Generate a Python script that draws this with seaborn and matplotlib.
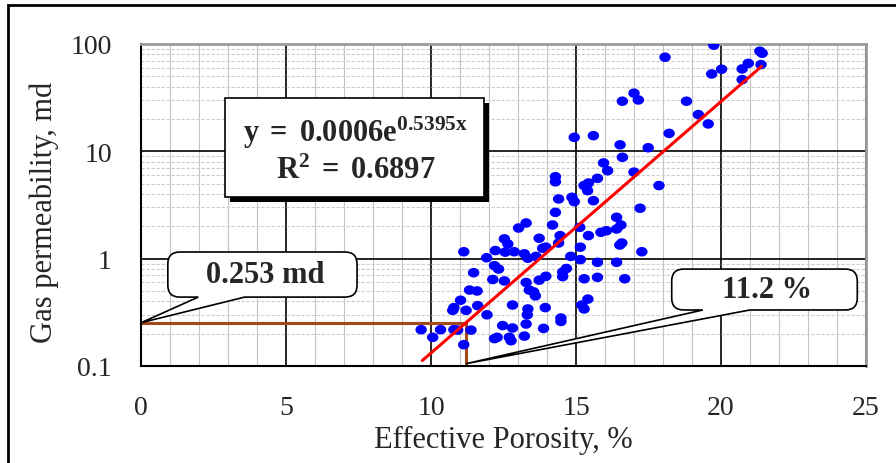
import numpy as np
import matplotlib
matplotlib.use("Agg")
import matplotlib.pyplot as plt
import seaborn as sns
from matplotlib.path import Path
from matplotlib.patches import PathPatch, Rectangle
from matplotlib.transforms import IdentityTransform
from matplotlib.ticker import MultipleLocator, LogLocator, FuncFormatter, NullFormatter

# core plug data
porosity = [
    9.66, 10.06, 10.33, 10.75, 10.79, 10.79, 10.92, 11.02, 11.13, 11.13,
    11.21, 11.33, 11.38, 11.47, 11.59, 11.61, 11.92, 11.93, 12.13, 12.19,
    12.19, 12.22, 12.28, 12.33, 12.47, 12.53, 12.53, 12.56, 12.65, 12.70,
    12.76, 12.81, 12.81, 12.87, 13.02, 13.22, 13.22, 13.28, 13.28, 13.28,
    13.32, 13.34, 13.34, 13.39, 13.54, 13.60, 13.62, 13.73, 13.73, 13.85,
    13.88, 13.94, 13.96, 13.96, 14.19, 14.29, 14.29, 14.29, 14.40, 14.40,
    14.45, 14.48, 14.48, 14.54, 14.54, 14.67, 14.82, 14.86, 14.94, 14.94,
    15.13, 15.15, 15.15, 15.20, 15.28, 15.28, 15.28, 15.40, 15.41, 15.43,
    15.43, 15.60, 15.60, 15.74, 15.74, 15.74, 15.86, 15.95, 16.05, 16.09,
    16.40, 16.40, 16.40, 16.51, 16.52, 16.55, 16.58, 16.60, 16.60, 16.68,
    17.00, 17.00, 17.15, 17.21, 17.27, 17.49, 17.86, 18.07, 18.21, 18.81,
    19.22, 19.56, 19.68, 19.75, 20.02, 20.73, 20.73, 20.94, 21.34, 21.38,
    21.42,
]
permeability = [
    0.218, 0.185, 0.218, 0.33, 0.35, 0.218, 0.216, 0.41, 1.16, 0.158,
    0.33, 0.51, 0.216, 0.74, 0.50, 0.365, 1.02, 0.30, 0.64, 0.86,
    0.18, 1.19, 0.185, 0.80, 0.238, 1.53, 0.62, 1.15, 1.37, 0.185,
    0.172, 0.37, 0.226, 1.16, 1.93, 1.11, 0.19, 2.15, 0.60, 0.246,
    0.30, 1.01, 0.34, 0.51, 0.49, 0.45, 1.05, 1.55, 0.63, 1.25,
    0.224, 0.35, 1.28, 0.685, 2.06, 5.8, 5.2, 2.7, 3.6, 1.40,
    1.64, 0.28, 0.26, 0.75, 0.68, 0.81, 1.05, 3.73, 13.5, 3.4,
    1.96, 1.28, 0.98, 0.37, 4.8, 0.65, 0.34, 4.3, 0.42, 5.07,
    1.64, 14.0, 3.47, 5.6, 0.925, 0.67, 1.76, 7.8, 1.82, 6.6,
    2.43, 1.89, 0.925, 1.34, 11.5, 2.06, 1.40, 29.3, 8.8, 0.65,
    34.8, 6.4, 30.1, 2.95, 1.16, 10.8, 4.8, 75.3, 14.7, 29.3,
    22.0, 18.0, 52.6, 97.5, 58.2, 58.6, 46.6, 66.0, 85.7, 64.3,
    82.0,
]

# exponential trend shown on the chart
fit_a = 0.0006
fit_b = 0.5395
fit_r2 = 0.6897
fit_range = [9.7, 21.4]

# cutoff read from the trend
cutoff_perm = 0.253
cutoff_poro = 11.2

sns.set_style("white")
plt.rcParams['font.family'] = ['Liberation Serif', 'DejaVu Serif']
plt.rcParams['mathtext.fontset'] = 'custom'
plt.rcParams['mathtext.rm'] = 'Liberation Serif'
plt.rcParams['mathtext.bf'] = 'Liberation Serif:bold'
plt.rcParams['mathtext.it'] = 'Liberation Serif:italic'

fig = plt.figure(figsize=(8.96, 4.64), dpi=100)
ax = fig.add_axes([141 / 896, 1 - 367 / 464, 725 / 896, 322 / 464])

# slightly wide ellipse marker like the excel one
t = np.linspace(0, 2 * np.pi, 41)
ellipse = Path(np.column_stack([1.2 * np.cos(t), np.sin(t)]), closed=True)

sns.scatterplot(x=porosity, y=permeability, ax=ax, marker=ellipse, s=68,
                color='#0000FF', edgecolor='none', linewidth=0, zorder=3)

x_fit = np.linspace(fit_range[0], fit_range[1], 200)
y_fit = fit_a * np.exp(fit_b * x_fit)
sns.lineplot(x=x_fit, y=y_fit, ax=ax, color='#FF0000', linewidth=2.2, zorder=4)

brown = '#A34A1C'
ax.plot([0, cutoff_poro], [cutoff_perm, cutoff_perm], color=brown, lw=2.2, zorder=2)
ax.plot([cutoff_poro, cutoff_poro], [0.1, cutoff_perm], color=brown, lw=2.2, zorder=2)

ax.set_yscale('log')
ax.set_xlim(0, 25)
ax.set_ylim(0.1, 100)
ax.xaxis.set_major_locator(MultipleLocator(5))
ax.xaxis.set_minor_locator(MultipleLocator(1))
ax.yaxis.set_major_locator(LogLocator(base=10))
ax.yaxis.set_minor_locator(LogLocator(base=10, subs=range(2, 10)))
ax.yaxis.set_major_formatter(FuncFormatter(lambda v, _: f'{v:g}'))
ax.yaxis.set_minor_formatter(NullFormatter())

ax.set_axisbelow(True)
ax.grid(which='major', color='black', linewidth=1.2)
ax.grid(which='minor', axis='x', color='#c4c4c4', linewidth=0.8)
ax.grid(which='minor', axis='y', color='#cccccc', linewidth=0.8, linestyle=(0, (3, 1.5)))

ax.tick_params(which='major', direction='out', length=7, width=1.2, color='black',
               labelsize=20, pad=14)
ax.tick_params(which='minor', length=0)

for side in ['left', 'bottom']:
    ax.spines[side].set_color('black')
    ax.spines[side].set_linewidth(1.5)
for side in ['top', 'right']:
    ax.spines[side].set_color('#9a9a9a')
    ax.spines[side].set_linewidth(2)

ax.set_xlabel("Effective Porosity, %", fontsize=22)
ax.set_ylabel("Gas permeability, md", fontsize=22)
ax.xaxis.label.set_verticalalignment('center')
ax.yaxis.label.set_verticalalignment('center')
ax.xaxis.set_label_coords(0.5, -0.228)
ax.yaxis.set_label_coords(-0.133, 0.48)

# equation box with drop shadow
eq_box = [0.116, 0.525, 0.473, 0.832]
w = eq_box[2] - eq_box[0]
h = eq_box[3] - eq_box[1]
ax.add_patch(Rectangle((eq_box[0] + 0.007, eq_box[1] - 0.016), w, h, transform=ax.transAxes,
                       facecolor='black', edgecolor='none', clip_on=False, zorder=5))
ax.add_patch(Rectangle((eq_box[0], eq_box[1]), w, h, transform=ax.transAxes,
                       facecolor='white', edgecolor='black', linewidth=1.2,
                       clip_on=False, zorder=6))
ax.text(0.2966, 0.727, f'$\\mathbf{{y\\ =\\ {fit_a}e^{{{fit_b}x}}}}$', transform=ax.transAxes,
        ha='center', va='center', fontsize=22, zorder=7)
ax.text(0.2966, 0.606, f'$\\mathbf{{R^{{2}}\\ =\\ {fit_r2}}}$', transform=ax.transAxes,
        ha='center', va='center', fontsize=22, zorder=7)


def callout(box, base, tip, label, r=12):
    # rounded box with a wedge pointing at a data point, built in pixels
    (x0, y0), (x1, y1) = ax.transAxes.transform([(box[0], box[1]), (box[2], box[3])])
    bx0 = ax.transAxes.transform((base[0], 0))[0]
    bx1 = ax.transAxes.transform((base[1], 0))[0]
    tx, ty = ax.transData.transform(tip)
    verts = [(x0 + r, y0), (bx0, y0), (tx, ty), (bx1, y0), (x1 - r, y0),
             (x1, y0), (x1, y0 + r), (x1, y1 - r), (x1, y1), (x1 - r, y1),
             (x0 + r, y1), (x0, y1), (x0, y1 - r), (x0, y0 + r), (x0, y0),
             (x0 + r, y0), (x0 + r, y0)]
    codes = [Path.MOVETO, Path.LINETO, Path.LINETO, Path.LINETO, Path.LINETO,
             Path.CURVE3, Path.CURVE3, Path.LINETO, Path.CURVE3, Path.CURVE3,
             Path.LINETO, Path.CURVE3, Path.CURVE3, Path.LINETO, Path.CURVE3,
             Path.CURVE3, Path.CLOSEPOLY]
    patch = PathPatch(Path(verts, codes), transform=IdentityTransform(),
                      facecolor='white', edgecolor='black', linewidth=1.2,
                      clip_on=False, zorder=6)
    ax.add_artist(patch)
    ax.text((box[0] + box[2]) / 2 + 0.004, (box[1] + box[3]) / 2, label, transform=ax.transAxes,
            ha='center', va='center', fontsize=22, fontweight='bold', zorder=7)


callout([0.037, 0.214, 0.298, 0.354], [0.079, 0.143], (0, cutoff_perm), f'{cutoff_perm} md')
callout([0.732, 0.174, 0.988, 0.301], [0.775, 0.840], (cutoff_poro, 0.105), f'{cutoff_poro} %')

# outer frame of the pasted chart
fig.add_artist(Rectangle((8 / 896, -0.05), 1.1, 1 - 6 / 464 + 0.05, transform=fig.transFigure,
                         facecolor='none', edgecolor='black', linewidth=2, clip_on=False))

fig.savefig("out.png", dpi=100)
